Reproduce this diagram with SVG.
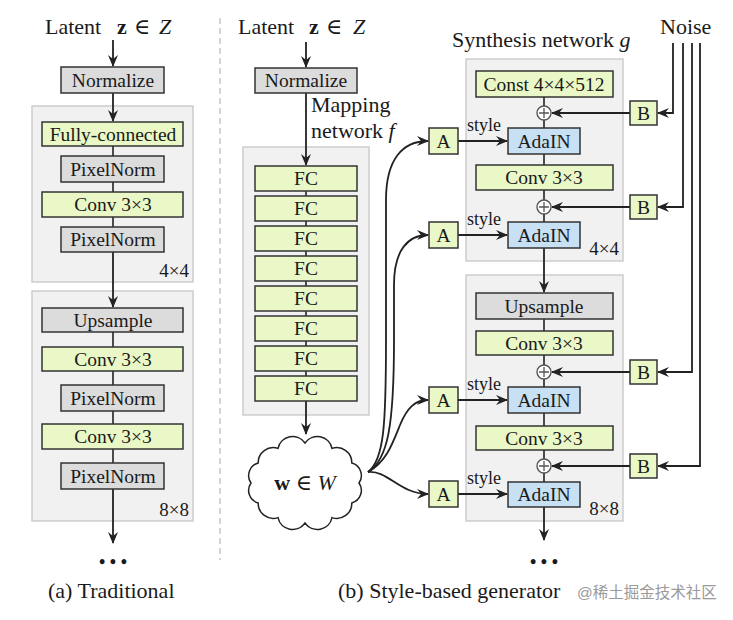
<svg xmlns="http://www.w3.org/2000/svg" width="733" height="620" viewBox="0 0 733 620" font-family="'Liberation Serif', 'DejaVu Serif', serif">
<style>
text{font-family:'Liberation Serif','DejaVu Serif',serif;fill:#1a1a1a}
.bt{font-size:19.5px;text-anchor:middle}
.lb{font-size:22px}
.sm{font-size:19px;text-anchor:end}
.st{font-size:18px}
.grp{fill:#f1f1f1;stroke:#c6c6c6;stroke-width:1.3}
.g{fill:#e9f8c6;stroke:#333;stroke-width:1.5}
.gr{fill:#dcdcdc;stroke:#333;stroke-width:1.5}
.bl{fill:#c7e0f4;stroke:#333;stroke-width:1.5}
.ln{stroke:#222;stroke-width:1.6;fill:none}
.ar{stroke:#222;stroke-width:1.8;fill:none;marker-end:url(#ah)}
.pl{fill:#fff;stroke:#555;stroke-width:1.4}
.wm{fill:#9a9a9a;font-family:'Liberation Sans','Noto Sans CJK SC',sans-serif;font-size:15.5px}
</style>
<defs>
<marker id="ah" viewBox="0 0 12 10" refX="11" refY="5" markerWidth="12" markerHeight="10" orient="auto" markerUnits="userSpaceOnUse"><path d="M0,0 L12,5 L0,10 L4,5 z" fill="#222"/></marker>
</defs>
<rect width="733" height="620" fill="#fff"/>
<line x1="220" y1="18" x2="220" y2="560" stroke="#bdbdbd" stroke-width="1.3" stroke-dasharray="6 4"/>

<!-- group boxes -->
<g id="block-a-4x4"><rect class="grp" x="32" y="106" width="161" height="176"/><text class="sm" x="189" y="277">4×4</text></g>
<g id="block-a-8x8"><rect class="grp" x="32" y="291" width="161" height="230"/><text class="sm" x="189" y="516">8×8</text></g>
<g id="mapping-net"><rect class="grp" x="243" y="147" width="126" height="268"/></g>
<g id="block-b-4x4"><rect class="grp" x="466" y="59" width="157" height="202"/><text class="sm" x="619" y="255">4×4</text></g>
<g id="block-b-8x8"><rect class="grp" x="466" y="275" width="157" height="246"/><text class="sm" x="619" y="515">8×8</text></g>

<!-- connectors -->
<g id="connectors">
<line class="ar" x1="113" y1="40" x2="113" y2="66"/>
<line class="ar" x1="113" y1="93" x2="113" y2="121"/>
<line class="ln" x1="113" y1="146" x2="113" y2="156"/>
<line class="ln" x1="113" y1="182" x2="113" y2="192"/>
<line class="ln" x1="113" y1="217" x2="113" y2="227"/>
<line class="ar" x1="113" y1="252" x2="113" y2="307"/>
<line class="ln" x1="113" y1="332" x2="113" y2="347"/>
<line class="ln" x1="113" y1="371" x2="113" y2="385"/>
<line class="ln" x1="113" y1="411" x2="113" y2="424"/>
<line class="ln" x1="113" y1="449" x2="113" y2="463"/>
<line class="ar" x1="113" y1="489" x2="113" y2="543"/>

<line class="ar" x1="306" y1="42" x2="306" y2="67"/>
<line class="ar" x1="306" y1="93" x2="306" y2="165"/>
<line class="ln" x1="306" y1="191" x2="306" y2="196"/>
<line class="ln" x1="306" y1="221" x2="306" y2="226"/>
<line class="ln" x1="306" y1="251" x2="306" y2="256"/>
<line class="ln" x1="306" y1="281" x2="306" y2="286"/>
<line class="ln" x1="306" y1="311" x2="306" y2="316"/>
<line class="ln" x1="306" y1="341" x2="306" y2="346"/>
<line class="ln" x1="306" y1="371" x2="306" y2="376"/>
<line class="ar" x1="306" y1="401" x2="306" y2="434"/>

<path class="ar" d="M368,472 C384,460 386,425 386,340 L386,200 C386,160 402,141 428,141"/>
<path class="ar" d="M368,472 C388,460 394,425 394,340 L394,285 C394,250 408,235 428,235"/>
<path class="ar" d="M368,472 C386,462 392,445 400,425 C407,408 415,400 428,400"/>
<path class="ar" d="M368,472 C388,470 400,494 428,494"/>

<line class="ln" x1="544" y1="97" x2="544" y2="106"/>
<line class="ln" x1="544" y1="120" x2="544" y2="128"/>
<line class="ln" x1="544" y1="154" x2="544" y2="165"/>
<line class="ln" x1="544" y1="190" x2="544" y2="200"/>
<line class="ln" x1="544" y1="214" x2="544" y2="222"/>
<line class="ar" x1="544" y1="248" x2="544" y2="292"/>
<line class="ln" x1="544" y1="319" x2="544" y2="331"/>
<line class="ln" x1="544" y1="355" x2="544" y2="365"/>
<line class="ln" x1="544" y1="379" x2="544" y2="387"/>
<line class="ln" x1="544" y1="413" x2="544" y2="426"/>
<line class="ln" x1="544" y1="450" x2="544" y2="459"/>
<line class="ln" x1="544" y1="473" x2="544" y2="482"/>
<line class="ar" x1="544" y1="507" x2="544" y2="540"/>

<line class="ar" x1="458" y1="141" x2="507" y2="141"/>
<line class="ar" x1="458" y1="235" x2="507" y2="235"/>
<line class="ar" x1="458" y1="400" x2="507" y2="400"/>
<line class="ar" x1="458" y1="494" x2="507" y2="494"/>

<line class="ar" x1="630" y1="113" x2="552" y2="113"/>
<line class="ar" x1="630" y1="207" x2="552" y2="207"/>
<line class="ar" x1="630" y1="372" x2="552" y2="372"/>
<line class="ar" x1="630" y1="466" x2="552" y2="466"/>

<polyline class="ar" points="673,43 673,113 658,113"/>
<polyline class="ar" points="683,43 683,207 658,207"/>
<polyline class="ar" points="692,43 692,372 658,372"/>
<polyline class="ar" points="700,43 700,466 658,466"/>
</g>

<!-- (a) traditional nodes -->
<g id="a-latent"><text class="lb" x="45" y="34">Latent<tspan x="117" font-weight="bold">z</tspan><tspan x="134">∈</tspan><tspan x="159" font-style="italic">Z</tspan></text></g>
<g id="a-normalize"><rect class="gr" x="61" y="67" width="103" height="26"/><text class="bt" x="113" y="87">Normalize</text></g>
<g id="a-fc"><rect class="g" x="42" y="122" width="141" height="24"/><text class="bt" x="113" y="141">Fully-connected</text></g>
<g id="a-pn1"><rect class="gr" x="61" y="156" width="103" height="26"/><text class="bt" x="113" y="176">PixelNorm</text></g>
<g id="a-conv1"><rect class="g" x="42" y="192" width="141" height="25"/><text class="bt" x="113" y="211">Conv 3×3</text></g>
<g id="a-pn2"><rect class="gr" x="61" y="227" width="103" height="25"/><text class="bt" x="113" y="246">PixelNorm</text></g>
<g id="a-upsample"><rect class="gr" x="42" y="308" width="141" height="24"/><text class="bt" x="113" y="327">Upsample</text></g>
<g id="a-conv2"><rect class="g" x="42" y="347" width="141" height="24"/><text class="bt" x="113" y="366">Conv 3×3</text></g>
<g id="a-pn3"><rect class="gr" x="61" y="385" width="103" height="26"/><text class="bt" x="113" y="405">PixelNorm</text></g>
<g id="a-conv3"><rect class="g" x="42" y="424" width="141" height="25"/><text class="bt" x="113" y="443">Conv 3×3</text></g>
<g id="a-pn4"><rect class="gr" x="61" y="463" width="103" height="26"/><text class="bt" x="113" y="483">PixelNorm</text></g>
<g id="a-dots"><text x="113" y="568" font-size="18" font-weight="bold" text-anchor="middle">• • •</text></g>
<g id="a-caption"><text class="lb" x="48" y="598">(a) Traditional</text></g>

<!-- (b) mapping network -->
<g id="b-latent"><text class="lb" x="238" y="34">Latent<tspan x="309" font-weight="bold">z</tspan><tspan x="326">∈</tspan><tspan x="353" font-style="italic">Z</tspan></text></g>
<g id="b-normalize"><rect class="gr" x="255" y="68" width="102" height="25"/><text class="bt" x="306" y="87">Normalize</text></g>
<g id="b-mapping-label"><text class="lb" x="311" y="112">Mapping</text><text class="lb" x="311" y="138">network <tspan font-style="italic">f</tspan></text></g>
<g id="fc1"><rect class="g" x="255" y="166" width="102" height="25"/><text class="bt" x="306" y="185">FC</text></g>
<g id="fc2"><rect class="g" x="255" y="196" width="102" height="25"/><text class="bt" x="306" y="215">FC</text></g>
<g id="fc3"><rect class="g" x="255" y="226" width="102" height="25"/><text class="bt" x="306" y="245">FC</text></g>
<g id="fc4"><rect class="g" x="255" y="256" width="102" height="25"/><text class="bt" x="306" y="275">FC</text></g>
<g id="fc5"><rect class="g" x="255" y="286" width="102" height="25"/><text class="bt" x="306" y="305">FC</text></g>
<g id="fc6"><rect class="g" x="255" y="316" width="102" height="25"/><text class="bt" x="306" y="335">FC</text></g>
<g id="fc7"><rect class="g" x="255" y="346" width="102" height="25"/><text class="bt" x="306" y="365">FC</text></g>
<g id="fc8"><rect class="g" x="255" y="376" width="102" height="25"/><text class="bt" x="306" y="395">FC</text></g>
<g id="w-cloud">
<path fill="#fff" stroke="#222" stroke-width="1.5" d="M359,483 A13,13 0 0 1 351.8,503 A15,15 0 0 1 332,517.6 A15,15 0 0 1 305,523 A15,15 0 0 1 278,517.6 A15,15 0 0 1 258.2,503 A13,13 0 0 1 251,483 A13,13 0 0 1 258.2,463 A15,15 0 0 1 278,448.4 A15,15 0 0 1 305,443 A15,15 0 0 1 332,448.4 A15,15 0 0 1 351.8,463 A13,13 0 0 1 359,483 Z"/>
<text class="lb" x="305" y="490" text-anchor="middle"><tspan font-weight="bold">w</tspan> ∈ <tspan font-style="italic">W</tspan></text>
</g>

<!-- (b) synthesis network -->
<g id="synthesis-label"><text class="lb" x="452" y="47">Synthesis network <tspan font-style="italic">g</tspan></text></g>
<g id="noise-label"><text class="lb" x="660" y="34">Noise</text></g>
<g id="const"><rect class="g" x="476" y="71" width="137" height="26"/><text class="bt" x="544" y="91">Const 4×4×512</text></g>
<g id="plus1"><circle class="pl" cx="544" cy="113" r="7"/><path d="M539,113 H549 M544,108 V118" stroke="#555" stroke-width="1.3"/></g>
<g id="adain1"><rect class="bl" x="508" y="128" width="72" height="26"/><text class="bt" x="544" y="148">AdaIN</text></g>
<g id="conv-b1"><rect class="g" x="476" y="165" width="137" height="25"/><text class="bt" x="544" y="184">Conv 3×3</text></g>
<g id="plus2"><circle class="pl" cx="544" cy="207" r="7"/><path d="M539,207 H549 M544,202 V212" stroke="#555" stroke-width="1.3"/></g>
<g id="adain2"><rect class="bl" x="508" y="222" width="72" height="26"/><text class="bt" x="544" y="242">AdaIN</text></g>
<g id="upsample-b"><rect class="gr" x="476" y="293" width="137" height="26"/><text class="bt" x="544" y="313">Upsample</text></g>
<g id="conv-b2"><rect class="g" x="476" y="331" width="137" height="24"/><text class="bt" x="544" y="350">Conv 3×3</text></g>
<g id="plus3"><circle class="pl" cx="544" cy="372" r="7"/><path d="M539,372 H549 M544,367 V377" stroke="#555" stroke-width="1.3"/></g>
<g id="adain3"><rect class="bl" x="508" y="387" width="72" height="26"/><text class="bt" x="544" y="407">AdaIN</text></g>
<g id="conv-b3"><rect class="g" x="476" y="426" width="137" height="24"/><text class="bt" x="544" y="445">Conv 3×3</text></g>
<g id="plus4"><circle class="pl" cx="544" cy="466" r="7"/><path d="M539,466 H549 M544,461 V471" stroke="#555" stroke-width="1.3"/></g>
<g id="adain4"><rect class="bl" x="508" y="482" width="72" height="25"/><text class="bt" x="544" y="501">AdaIN</text></g>

<g id="a1"><rect class="g" x="429" y="128" width="29" height="26"/><text class="bt" x="443.5" y="148">A</text><text class="st" x="467" y="131">style</text></g>
<g id="a2"><rect class="g" x="429" y="222" width="29" height="26"/><text class="bt" x="443.5" y="242">A</text><text class="st" x="467" y="225">style</text></g>
<g id="a3"><rect class="g" x="429" y="387" width="29" height="26"/><text class="bt" x="443.5" y="407">A</text><text class="st" x="467" y="390">style</text></g>
<g id="a4"><rect class="g" x="429" y="481" width="29" height="26"/><text class="bt" x="443.5" y="501">A</text><text class="st" x="467" y="484">style</text></g>

<g id="b1"><rect class="g" x="630" y="101" width="27" height="24"/><text class="bt" x="643.5" y="120">B</text></g>
<g id="b2"><rect class="g" x="630" y="195" width="27" height="24"/><text class="bt" x="643.5" y="214">B</text></g>
<g id="b3"><rect class="g" x="630" y="360" width="27" height="24"/><text class="bt" x="643.5" y="379">B</text></g>
<g id="b4"><rect class="g" x="630" y="454" width="27" height="24"/><text class="bt" x="643.5" y="473">B</text></g>

<g id="b-dots"><text x="544" y="568" font-size="18" font-weight="bold" text-anchor="middle">• • •</text></g>
<g id="b-caption"><text class="lb" x="338" y="598">(b) Style-based generator</text></g>
<g id="watermark"><text class="wm" x="577" y="598">@稀土掘金技术社区</text></g>
</svg>
